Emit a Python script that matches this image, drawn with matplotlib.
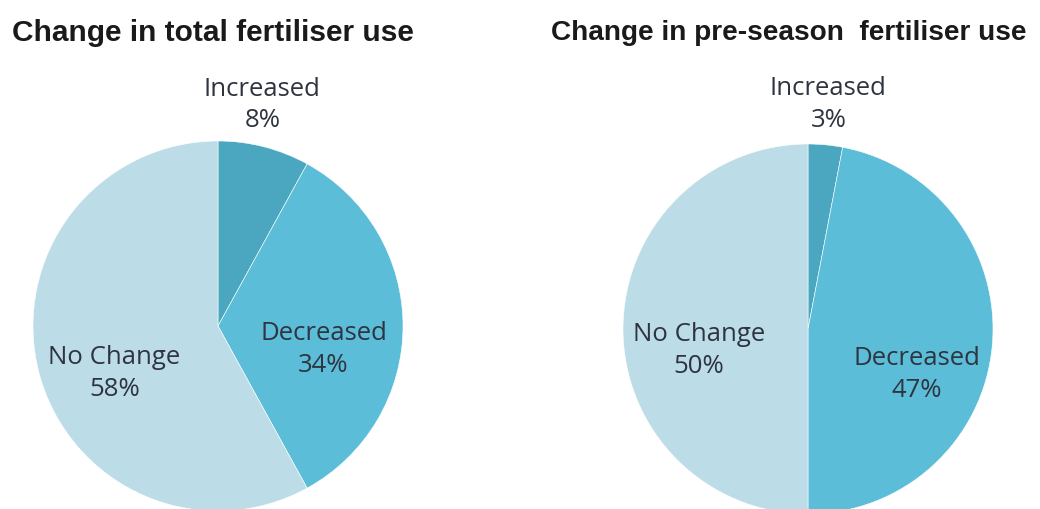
import matplotlib
matplotlib.use("Agg")
import matplotlib.pyplot as plt
import numpy as np

# Data
categories_total = ["Increased", "Decreased", "No Change"]
values_total = [8, 34, 58]
categories_pre = ["Increased", "Decreased", "No Change"]
values_pre = [3, 47, 50]
titles = ["Change in total fertiliser use", "Change in pre-season  fertiliser use"]

# Style / layout
colors = ["#4BA7BF", "#5BBDD7", "#BCDCE7"]
text_color = "#2E3440"
W, H = 1040, 510
R = 185
pie_centers = [(218, 327), (808, 330)]
# label offsets in radius units (layout)
label_xy = [
    [(0.24, 1.20), (0.57, -0.12), (-0.56, -0.25)],
    [(0.11, 1.22), (0.59, -0.24), (-0.59, -0.11)],
]
title_pos = [(12, 33), (551, 33)]
title_sizes = [21.5, 20.2]

fig = plt.figure(figsize=(W / 100, H / 100), dpi=100)

datasets = [(categories_total, values_total), (categories_pre, values_pre)]
for i, (cats, vals) in enumerate(datasets):
    cx, cy = pie_centers[i]
    span = 2 * R * 1.4
    ax = fig.add_axes([(cx - span / 2) / W, (H - cy - span / 2) / H, span / W, span / H])
    ax.pie(vals, colors=colors, startangle=90, counterclock=False, radius=1.0,
           wedgeprops=dict(linewidth=0.4, edgecolor="white"))
    ax.set_xlim(-1.4, 1.4)
    ax.set_ylim(-1.4, 1.4)
    ax.set_aspect("equal")
    ax.axis("off")
    for j, (c, v) in enumerate(zip(cats, vals)):
        lx, ly = label_xy[i][j]
        ax.text(lx, ly, f"{c}\n{v}%", ha="center", va="center", fontsize=18.5,
                family="Open Sans", color=text_color, linespacing=1.35)
    tx, ty = title_pos[i]
    fig.text(tx / W, 1 - ty / H, titles[i], ha="left", va="center", fontsize=title_sizes[i],
             fontweight="bold", family="Liberation Sans", color="#1a1a1a")

fig.savefig("out.png", dpi=100, facecolor="white")
